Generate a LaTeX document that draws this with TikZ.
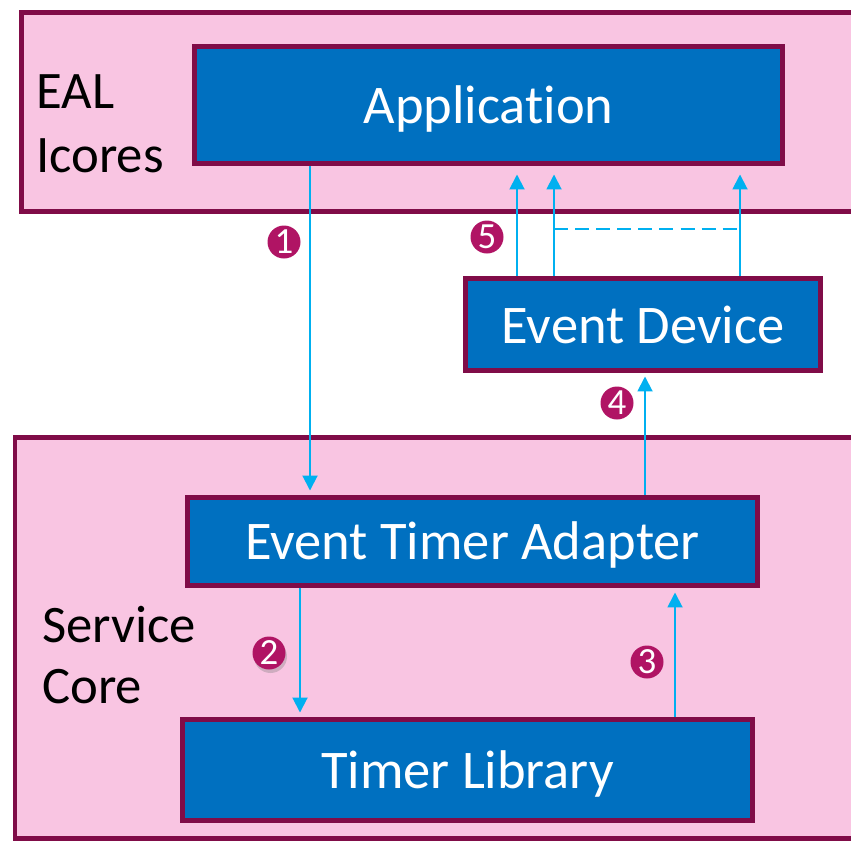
\documentclass[tikz,border=0pt]{standalone}
\usepackage{fontspec}
\setmainfont{Carlito}[Ligatures={NoCommon}]
\usetikzlibrary{arrows.meta,shadows}
\definecolor{layerpink}{HTML}{F9C5E2}
\definecolor{layerline}{HTML}{800C48}
\definecolor{blockblue}{HTML}{0070C0}
\definecolor{flowblue}{HTML}{00B0F0}
\definecolor{stepred}{HTML}{B01464}
\tikzset{
  layer/.style={draw=layerline, fill=layerpink, line width=0.1cm},
  block/.style={draw=layerline, fill=blockblue, line width=0.1cm, text=white, inner sep=0pt, text depth=0pt, font=\fontsize{31}{36}\selectfont},
  flow/.style={draw=flowblue, line width=1.1pt, -{Triangle[width=0.3cm,length=0.3cm]}},
  stepnum/.style={circle, fill=stepred, text=white, minimum size=0.66cm, inner sep=0pt, font=\fontsize{21}{21}\selectfont},
  lbl/.style={anchor=base west, inner sep=0pt, font=\fontsize{30}{36}\selectfont}
}

\begin{document}
\begin{tikzpicture}[x=0.02cm, y=-0.02cm]
\useasboundingbox (0,0) rectangle (851,842);
\draw[layer] (21,12) rectangle (880,211);
\draw[layer] (15,437) rectangle (880,838);
\node[lbl] (eal) at (36,108) {EAL};
\node[lbl] (icores) at (36,172) {Icores};
\node[lbl] (service) at (42,642) {Service};
\node[lbl] (core) at (42,703) {Core};
\node[block, minimum width=11.78cm, minimum height=2.36cm] (app) at (488.5,105) {Application};
\node[block, minimum width=7.12cm, minimum height=1.86cm] (dev) at (643,324.5) {Event Device};
\node[block, minimum width=11.42cm, minimum height=1.76cm] (adapter) at (472.5,541) {Event Timer Adapter};
\node[block, minimum width=11.42cm, minimum height=2.02cm] (lib) at (467.5,769.5) {Timer Library};
\draw[flow, shorten >=0.08cm] (app.south -| 310,0) -- (adapter.north -| 310,0);
\draw[flow, shorten >=0.08cm] (adapter.south -| 300,0) -- (lib.north -| 300,0);
\draw[flow, shorten >=0.1cm] (lib.north -| 675,0) -- (adapter.south -| 675,0);
\draw[flow, shorten >=0.06cm] (adapter.north -| 645,0) -- (dev.south -| 645,0);
\draw[flow, shorten >=0.16cm] (dev.north -| 517,0) -- (app.south -| 517,0);
\draw[flow, shorten >=0.16cm] (dev.north -| 554,0) -- (app.south -| 554,0);
\draw[flow, shorten >=0.16cm] (dev.north -| 740,0) -- (app.south -| 740,0);
\coordinate (dashl) at (554,229);
\coordinate (dashr) at (740,229);
\draw[draw=flowblue, line width=1.1pt, dash pattern=on 8pt off 4pt] (dashl) -- (dashr);
\node[stepnum] (s1) at (284,242) {1};
\node[stepnum, drop shadow={opacity=0.35, shadow xshift=0.03cm, shadow yshift=-0.07cm}] (s2) at (269,653) {2};
\node[stepnum] (s3) at (647,662) {3};
\node[stepnum] (s4) at (617,403) {4};
\node[stepnum] (s5) at (487,237) {5};
\end{tikzpicture}
\end{document}
